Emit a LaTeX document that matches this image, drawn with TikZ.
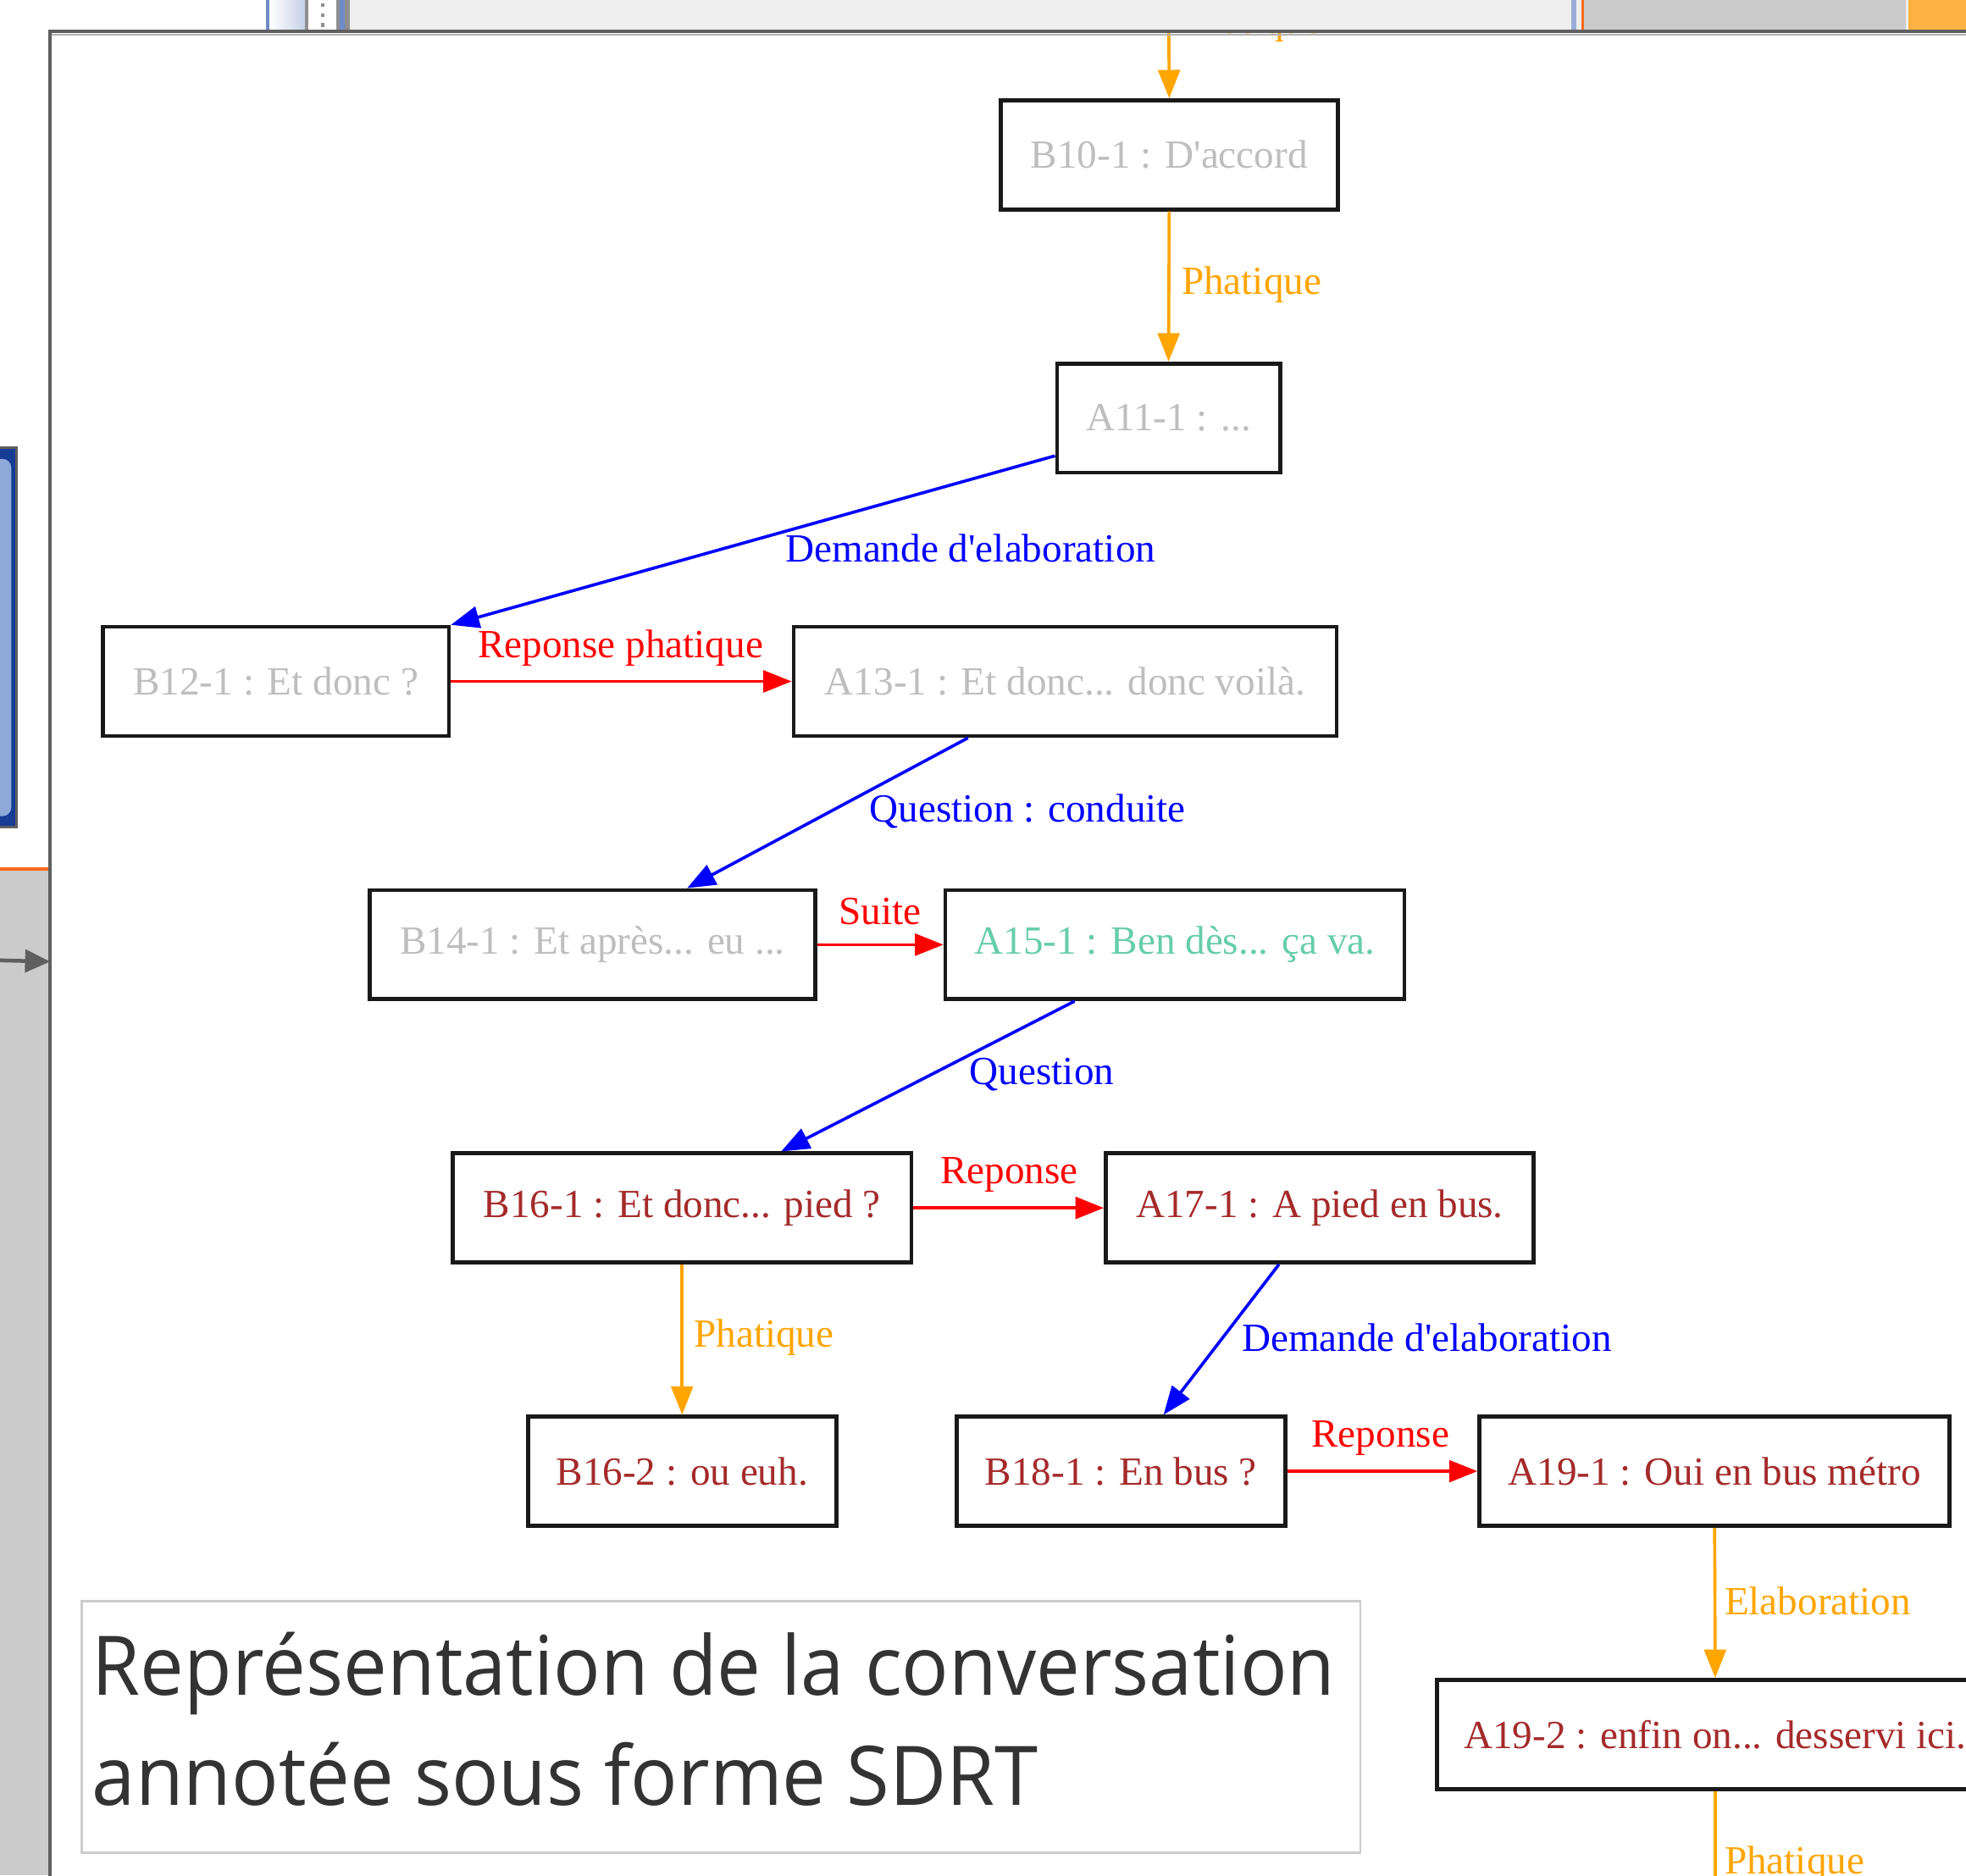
\documentclass[tikz,border=0pt]{standalone}
\usepackage{fontspec}
\setmainfont{Liberation Serif}
\newfontfamily\capfont{Open Sans}
\usetikzlibrary{arrows.meta, positioning, calc}

\definecolor{gvorange}{HTML}{FFA500}
\definecolor{gvblue}{HTML}{0000FF}
\definecolor{gvred}{HTML}{FF0000}
\definecolor{gvgray}{HTML}{BEBEBE}
\definecolor{gvaqua}{HTML}{66CDAA}
\definecolor{gvbrown}{HTML}{A52A2A}
\definecolor{framegray}{HTML}{5F5F5F}
\definecolor{panelgray}{HTML}{CBCBCB}
\definecolor{stripgray}{HTML}{EEEEEE}
\definecolor{taborange}{HTML}{FFB142}
\definecolor{lineorange}{HTML}{FF6A1A}
\definecolor{btnblue}{HTML}{163C93}
\definecolor{btnlight}{HTML}{8FA9D8}
\definecolor{barblue}{HTML}{6F8AC4}
\definecolor{capgray}{HTML}{333333}

\tikzset{
  utt/.style={draw=black!90, line width=1.35pt, fill=white, inner sep=0pt,
    minimum height=1.305cm, minimum width=#1*0.015cm,
    font=\fontsize{13.6}{16}\selectfont},
  rel/.style={inner sep=0pt, font=\fontsize{13.6}{16}\selectfont},
  link/.style={line width=1.05pt, -{Triangle[length=0.34cm, width=0.26cm]}},
  captext/.style={inner sep=0pt, text=capgray, anchor=base west,
    font=\capfont\fontsize{28}{34}\selectfont},
}

\begin{document}
\begin{tikzpicture}[x=0.015cm, y=-0.015cm]
    \useasboundingbox (0,0) rectangle (1568,1496);
    \clip (0,0) rectangle (1568,1496);
    \fill[white] (0,0) rectangle (1568,1496);

    % Utterances
    \node[utt=269, text=gvgray] (B10) at (932.5,123.5) {B10-1 : D\textquotesingle accord};
    \node[utt=178, text=gvgray] (A11) at (932,333.5) {A11-1 : ...};
    \node[utt=276, text=gvgray] (B12) at (220,543.5) {B12-1 : Et donc ?};
    \node[utt=433, text=gvgray] (A13) at (849.5,543.5) {A13-1 : Et donc... donc voilà.};
    \node[utt=355, text=gvgray] (B14) at (472.5,753.5) {B14-1 : Et après... eu ...};
    \node[utt=366, text=gvaqua] (A15) at (937,753.5) {A15-1 : Ben dès... ça va.};
    \node[utt=366, text=gvbrown] (B16) at (544,963.5) {B16-1 : Et donc... pied ?};
    \node[utt=341, text=gvbrown] (A17) at (1052.5,963.5) {A17-1 : A pied en bus.};
    \node[utt=246, text=gvbrown] (B162) at (544,1173.5) {B16-2 : ou euh.};
    \node[utt=262, text=gvbrown] (B18) at (894,1173.5) {B18-1 : En bus ?};
    \node[utt=375, text=gvbrown] (A19) at (1367.5,1173.5) {A19-1 : Oui en bus métro};
    \node[utt=444, text=gvbrown] (A192) at (1368,1383.5) {A19-2 : enfin on... desservi ici.};

    % Relations
    \coordinate (topIn) at (932,-10);
    \coordinate (botOut) at (1368,1540);
    \draw[link, gvorange] (topIn) -- (B10.north);
    \draw[link, gvorange] (B10.south) -- (A11.north);
    \draw[link, gvblue] ([yshift=0.225cm]A11.south west) -- (B12.north east);
    \draw[link, gvred] (B12.east) -- (A13.west);
    \draw[link, gvblue] ([xshift=-1.1625cm]A13.south) -- ([xshift=1.1325cm]B14.north);
    \draw[link, gvred] (B14.east) -- (A15.west);
    \draw[link, gvblue] ([xshift=-1.2cm]A15.south) -- ([xshift=1.185cm]B16.north);
    \draw[link, gvred] (B16.east) -- (A17.west);
    \draw[link, gvorange] (B16.south) -- (B162.north);
    \draw[link, gvblue] ([xshift=-0.4875cm]A17.south) -- ([xshift=0.51cm]B18.north);
    \draw[link, gvred] (B18.east) -- (A19.west);
    \draw[link, gvorange] (A19.south) -- (A192.north);
    \draw[link, gvorange] (A192.south) -- (botOut);

    % Relation labels
    \node[rel, text=gvorange, anchor=base west] (lbPhat0) at (942,27) {Phatique};
    \node[rel, text=gvorange, anchor=west] (lbPhat1) at (942,227) {Phatique};
    \node[rel, text=gvblue, anchor=west] (lbDem1) at (626,437) {Demande d\textquotesingle elaboration};
    \node[rel, text=gvred] (lbRepPh) at (495,517) {Reponse phatique};
    \node[rel, text=gvblue, anchor=west] (lbQCond) at (693,647) {Question : conduite};
    \node[rel, text=gvred] (lbSuite) at (702,727) {Suite};
    \node[rel, text=gvblue, anchor=west] (lbQuest) at (773,857) {Question};
    \node[rel, text=gvred] (lbRep1) at (805,937) {Reponse};
    \node[rel, text=gvorange, anchor=west] (lbPhat2) at (553,1067) {Phatique};
    \node[rel, text=gvblue, anchor=west] (lbDem2) at (990,1067) {Demande d\textquotesingle elaboration};
    \node[rel, text=gvred] (lbRep2) at (1101,1147) {Reponse};
    \node[rel, text=gvorange, anchor=west] (lbElab) at (1375,1277) {Elaboration};
    \node[rel, text=gvorange, anchor=west] (lbPhat3) at (1375,1487) {Phatique};

    % Caption
    \node[draw=black!20, line width=0.8pt, minimum width=15.3cm, minimum height=3.015cm, inner sep=0pt] (capbox) at (575,1377.5) {};
    \node[captext] (cap1) at (73,1352) {\scalebox{0.95}[1]{Représentation de la conversation}};
    \node[captext] (cap2) at (73,1440) {\scalebox{0.95}[1]{annotée sous forme SDRT}};

    % Window chrome: left panel
    \fill[panelgray] (0,693) rectangle (40,1496);
    \draw[lineorange, line width=1.2pt] (0,693) -- (40,693);
    \fill[framegray] (-10,356) rectangle (14,661);
    \fill[btnblue] (-10,358) rectangle (12,659);
    \fill[btnlight, rounded corners=3pt] (-10,366) rectangle (9,651);
    \coordinate (arrIn) at (0,766);
    \coordinate (arrOut) at (40,767);
    \draw[framegray, line width=1.3pt, -{Triangle[length=0.3cm, width=0.27cm]}] (arrIn) -- (arrOut);

    % Window chrome: top strip
    \fill[stripgray] (213,0) rectangle (1568,25);
    \fill[barblue] (212,0) rectangle (215,25);
    \shade[left color=white, right color=barblue!40] (215,0) rectangle (243,25);
    \fill[framegray!70] (243,0) rectangle (246,25);
    \fill[white] (246,0) rectangle (268,25);
    \foreach \yy in {4,12,20} {
        \fill[framegray!70] (256,\yy-1.5) rectangle (259,\yy+1.5);
    }
    \fill[framegray!70] (268,0) rectangle (271,25);
    \fill[barblue] (271,0) rectangle (275,25);
    \fill[framegray!70] (275,0) rectangle (279,25);
    \fill[barblue!70] (1253,0) rectangle (1257,25);
    \fill[lineorange] (1261,0) rectangle (1263,25);
    \fill[panelgray] (1263,0) rectangle (1520,25);
    \fill[taborange] (1522,0) rectangle (1568,25);

    % Window frame
    \draw[framegray, line width=0.045cm] (40,1500) -- (40,25) -- (1570,25);
    \draw[black!30, line width=0.02cm] (41.5,27.5) -- (1570,27.5);
\end{tikzpicture}
\end{document}
